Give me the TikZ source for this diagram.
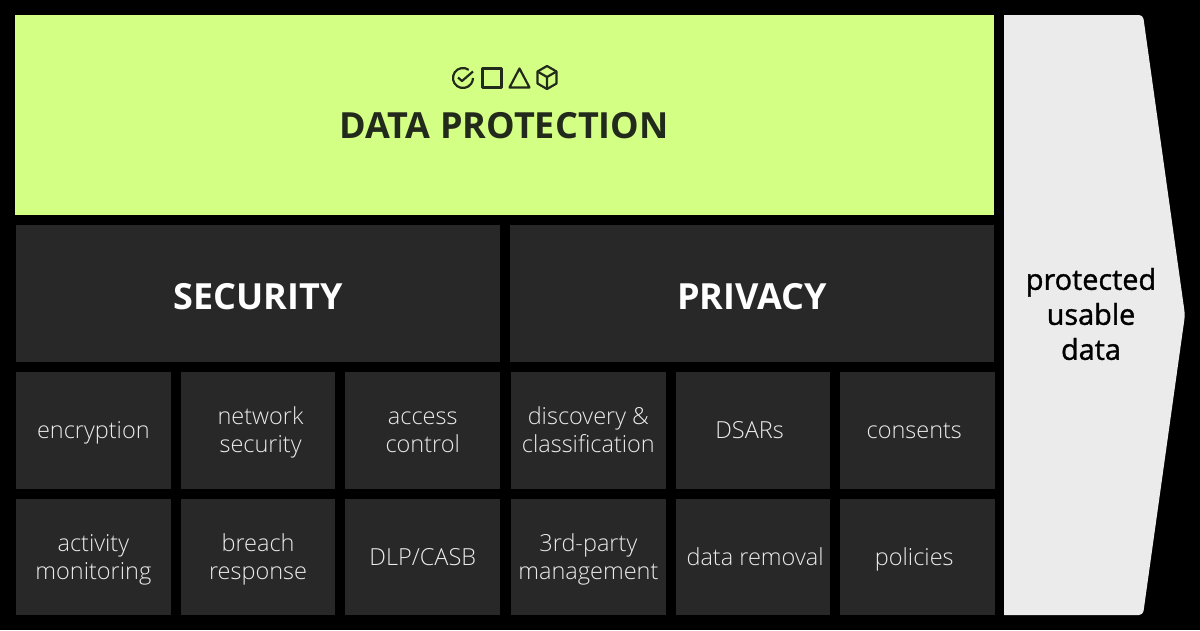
\documentclass[tikz,border=0pt]{standalone}
\usepackage{fontspec}
\usepackage{xcolor}
\usepackage{tikz}
\usetikzlibrary{positioning}
\setmainfont{Open Sans}[UprightFont=* Light,BoldFont=* Bold]
\newfontfamily\headfont{Open Sans}[FakeBold=1.2]
\newcommand{\lbl}{\rule[-6pt]{0pt}{29pt}}
\lineskiplimit=-30pt
\definecolor{mLime}{HTML}{D4FF85}
\definecolor{mCell}{HTML}{282828}
\definecolor{mPale}{HTML}{EBEBEB}
\definecolor{mInk}{HTML}{222A1C}

\begin{document}
\begin{tikzpicture}[x=1pt, y=-1pt, node distance=10pt,
  box/.style={fill=mCell, inner sep=0pt, outer sep=0pt, text=white!92!black, align=center},
  cell/.style={box, minimum width=154.7pt, minimum height=116.5pt, font=\fontsize{23.5}{28}\selectfont},
  head/.style={box, minimum width=484pt, minimum height=137pt, font=\fontsize{36}{40}\selectfont\bfseries, text=white,
    text height=32.7pt, text depth=0pt},
  icn/.style={draw=mInk, line width=2.2pt, line join=round}]
\fill[black] (0,0) rectangle (1200,630);
\useasboundingbox (0,0) rectangle (1200,630);
\node[fill=mLime, inner sep=0pt, outer sep=0pt, minimum width=979pt, minimum height=200pt, anchor=north west] (band) at (15,15) {};
\node[font=\fontsize{36}{40}\selectfont\bfseries, text=mInk, text height=25.7pt, text depth=0pt] (title) at (504,126) {DATA PROTECTION};
% icons
\draw[icn] (468.7,69.8) arc (-55:-360:10);
\draw[icn] (458,77.5) -- (462,81) -- (473,71.5);
\draw[icn] (482.5,68.5) rectangle (501.5,87.5);
\draw[icn] (519.5,68.5) -- (529.5,87.5) -- (509.5,87.5) -- cycle;
\draw[icn] (547,66) -- (556.5,71.5) -- (556.5,83.5) -- (547,89) -- (537.5,83.5) -- (537.5,71.5) -- cycle;
\draw[icn] (537.5,71.5) -- (547,77) -- (556.5,71.5) (547,77) -- (547,89);
% headers
\node[head, anchor=north west] (sec) at (16,225) {SECURITY};
\node[head, right=of sec] (priv) {PRIVACY};
% first row
\node[cell, anchor=north west] (enc) at (16,372) {\lbl encryption};
\node[cell, right=of enc] (net) {\lbl\hspace*{5pt}network\\\lbl\hspace*{5pt}security};
\node[cell, right=of net] (acc) {\lbl access\\\lbl control};
\node[cell, anchor=north west] (disc) at (511,372) {\lbl discovery \&\\\lbl classification};
\node[cell, right=of disc] (dsar) {\lbl\hspace*{-7pt}DSARs};
\node[cell, right=of dsar] (cons) {\lbl\hspace*{-7pt}consents};
% second row
\node[cell, below=of enc] (act) {\lbl activity\\\lbl monitoring};
\node[cell, right=of act] (bre) {\lbl breach\\\lbl response};
\node[cell, right=of bre] (dlp) {\lbl DLP/CASB};
\node[cell, below=of disc] (third) {\lbl 3rd-party\\\lbl management};
\node[cell, right=of third] (rem) {\lbl\hspace*{4pt}data removal};
\node[cell, right=of rem] (pol) {\lbl\hspace*{-7pt}policies};
% output arrow
\fill[mPale] (1004,615) -- (1004,15) [rounded corners=4pt] -- (1143,15) -- (1185,315) -- (1143,615) [sharp corners] -- cycle;
\node[align=center, text=black, font=\headfont\fontsize{28.8}{35}\selectfont] (out) at (1091,314) {protected\\usable\\data};
\end{tikzpicture}
\end{document}
